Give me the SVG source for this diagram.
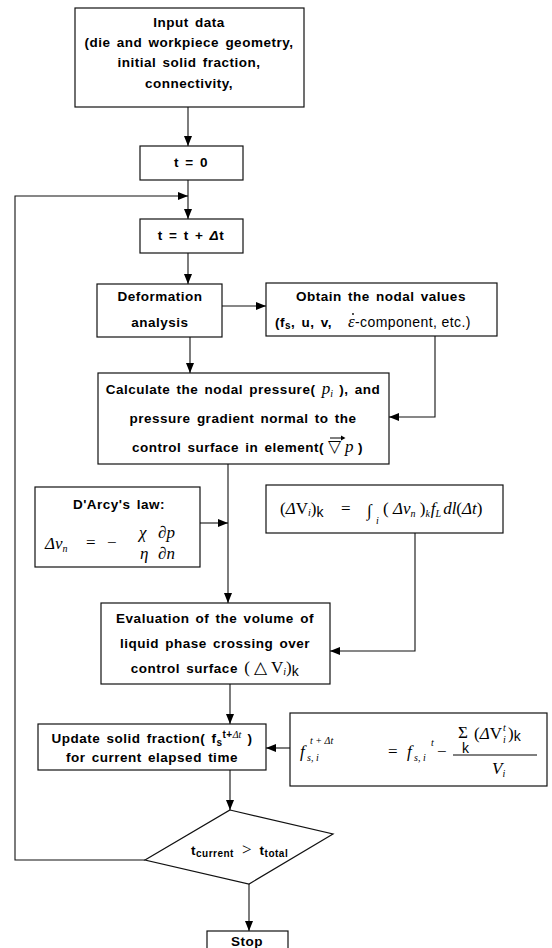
<svg xmlns="http://www.w3.org/2000/svg" width="552" height="948" viewBox="0 0 552 948">
<style>
.box{fill:#fff;stroke:#111;stroke-width:1.2}
.ln{fill:none;stroke:#111;stroke-width:1.1}
.t{font-family:"Liberation Sans",Arial,sans-serif;font-weight:bold;font-size:13.5px;fill:#000;letter-spacing:0.5px;word-spacing:2px}
.c{text-anchor:middle}
.e{text-anchor:end}
.m{font-family:"Liberation Serif","Times New Roman",serif;font-style:italic;font-size:17px;fill:#000}
.mu{font-family:"Liberation Serif","Times New Roman",serif;font-size:17px;fill:#000}
.r{font-family:"Liberation Sans",Arial,sans-serif;font-weight:normal;font-size:14px;fill:#000;letter-spacing:0.4px}
.s{font-size:10px}
.ss{font-family:"Liberation Serif","Times New Roman",serif;font-style:italic;font-size:10px;fill:#000}
</style>
<defs>
<marker id="ah" markerWidth="10" markerHeight="8" refX="10" refY="4" orient="auto" markerUnits="userSpaceOnUse">
<path d="M0,0 L10,4 L0,8 Z" fill="#000"/>
</marker>
</defs>

<g id="connectors">
<path class="ln" d="M188,107 V146" marker-end="url(#ah)"/>
<path class="ln" d="M188,180 V219" marker-end="url(#ah)"/>
<path class="ln" d="M145,860 H15 V196 H188" marker-end="url(#ah)"/>
<path class="ln" d="M188,253 V284" marker-end="url(#ah)"/>
<path class="ln" d="M222,306 H266" marker-end="url(#ah)"/>
<path class="ln" d="M190,337 V373" marker-end="url(#ah)"/>
<path class="ln" d="M435,336 V417 H389" marker-end="url(#ah)"/>
<path class="ln" d="M228,464 V603" marker-end="url(#ah)"/>
<path class="ln" d="M200,523 H228" marker-end="url(#ah)"/>
<path class="ln" d="M415,533 V651 H330" marker-end="url(#ah)"/>
<path class="ln" d="M230,684 V724" marker-end="url(#ah)"/>
<path class="ln" d="M290,748 H266" marker-end="url(#ah)"/>
<path class="ln" d="M230,770 V810" marker-end="url(#ah)"/>
<path class="ln" d="M249,884 V931" marker-end="url(#ah)"/>
</g>

<g id="input">
<rect class="box" x="75" y="8" width="229" height="99"/>
<text class="t c" x="189" y="27">Input data</text>
<text class="t c" x="189" y="47">(die and workpiece geometry,</text>
<text class="t c" x="189" y="67">initial solid fraction,</text>
<text class="t c" x="189" y="88">connectivity,</text>
</g>

<g id="t0">
<rect class="box" x="140" y="146" width="103" height="34"/>
<text class="t c" x="191" y="167">t = 0</text>
</g>

<g id="tdt">
<rect class="box" x="140" y="219" width="103" height="34"/>
<text class="t c" x="191" y="240">t = t + <tspan font-style="italic">Δ</tspan>t</text>
</g>

<g id="deformation">
<rect class="box" x="97" y="284" width="125" height="53"/>
<text class="t c" x="160" y="301">Deformation</text>
<text class="t c" x="160" y="327">analysis</text>
</g>

<g id="obtain">
<rect class="box" x="266" y="283" width="231" height="53"/>
<text class="t c" x="381" y="301">Obtain the nodal values</text>
<text class="t" x="275" y="327">(f<tspan class="s" dy="2">s</tspan><tspan dy="-2">,  u,  v,</tspan></text>
<text class="m" x="348" y="327" font-size="15px">ε</text>
<circle cx="353" cy="314" r="0.9" fill="#000"/>
<text class="r" x="355" y="327">-component,  etc.)</text>
</g>

<g id="calculate">
<rect class="box" x="98" y="373" width="291" height="91"/>
<text x="243" y="394" class="c"><tspan class="t">Calculate the nodal pressure( </tspan><tspan class="m" font-size="15px">p</tspan><tspan class="ss" dy="3">i</tspan><tspan class="t" dy="-3">  ), and</tspan></text>
<text class="t c" x="243" y="423">pressure gradient normal to the</text>
<text class="t e" x="324" y="452">control surface in element(</text>
<text class="mu" x="328" y="452" font-size="15px">▽</text>
<text class="m" x="345" y="452" font-size="15px">p</text>
<text class="t" x="358" y="452">)</text>
<path d="M330,438 H344" stroke="#000" stroke-width="1"/>
<path d="M341,435.5 L345.5,438 L341,440.5 Z" fill="#000"/>
</g>

<g id="darcy">
<rect class="box" x="35" y="487" width="165" height="80"/>
<text class="t c" x="119" y="509">D'Arcy's law:</text>
<text class="m" x="45" y="549">Δv<tspan class="ss" dy="3">n</tspan></text>
<text class="mu" x="86" y="548">=</text>
<text class="mu" x="107" y="548">−</text>
<text class="m" x="139" y="538">χ</text>
<text class="m" x="140" y="559">η</text>
<text class="m" x="158" y="538">∂p</text>
<text class="m" x="158" y="559">∂n</text>
</g>

<g id="volume-formula">
<rect class="box" x="266" y="485" width="237" height="48"/>
<text x="280" y="514"><tspan class="mu">(</tspan><tspan class="m">Δ</tspan><tspan class="mu">V</tspan><tspan class="ss" dy="2">i</tspan><tspan class="mu" dy="-2">)</tspan><tspan class="r" dy="3" font-size="12px">k</tspan></text>
<text class="mu" x="341" y="514">=</text>
<text class="mu" x="367" y="516" font-size="22px">∫</text>
<text class="ss" x="376" y="524">i</text>
<text x="383" y="514"><tspan class="mu">( </tspan><tspan class="m">Δv</tspan><tspan class="ss" dy="3">n</tspan><tspan class="mu" dy="-3"> )</tspan><tspan class="ss" dy="3">k</tspan><tspan class="m" dy="-3" dx="1">f</tspan><tspan class="ss" dy="3">L</tspan><tspan class="m" dy="-3" dx="2">dl</tspan><tspan class="mu">(</tspan><tspan class="m">Δt</tspan><tspan class="mu">)</tspan></text>
</g>

<g id="evaluation">
<rect class="box" x="101" y="603" width="229" height="81"/>
<text class="t c" x="215" y="623">Evaluation of the volume of</text>
<text class="t c" x="215" y="648">liquid phase crossing over</text>
<text x="215" y="673" class="c"><tspan class="t">control surface  </tspan><tspan class="mu" font-size="15px"> ( △ V</tspan><tspan class="ss" font-style="normal" dy="2">i</tspan><tspan class="mu" font-size="15px" dy="-2">)</tspan><tspan class="r" font-size="11px" dy="3">k</tspan></text>
</g>

<g id="update">
<rect class="box" x="38" y="724" width="228" height="46"/>
<text x="152" y="743" class="c"><tspan class="t">Update solid fraction( f</tspan><tspan class="t s" dy="3">s</tspan><tspan class="t s" dy="-8">t+</tspan><tspan class="ss">Δt</tspan><tspan class="t" dy="5"> )</tspan></text>
<text class="t c" x="152" y="762">for current elapsed time</text>
</g>

<g id="fraction-formula">
<rect class="box" x="290" y="713" width="257" height="73"/>
<text class="m" x="300" y="757">f</text>
<text class="ss" x="307" y="761">s, i</text>
<text class="ss" x="310" y="744">t + Δt</text>
<text class="mu" x="388" y="757">=</text>
<text class="m" x="407" y="757">f</text>
<text class="ss" x="414" y="761">s, i</text>
<text class="ss" x="431" y="746">t</text>
<text class="mu" x="437" y="757">−</text>
<text class="mu" x="458" y="738" font-size="17px">Σ</text>
<text class="r" x="462" y="753" font-size="8px">k</text>
<text x="474" y="739"><tspan class="mu">(</tspan><tspan class="m">Δ</tspan><tspan class="mu">V</tspan></text>
<text class="ss" font-style="normal" font-size="9px" x="503" y="743">i</text>
<text class="ss" font-style="normal" font-size="9px" x="503" y="731">t</text>
<text x="508" y="739"><tspan class="mu">)</tspan><tspan class="r" font-size="12px" dy="2">k</tspan></text>
<path d="M453,755 H537" stroke="#000" stroke-width="1"/>
<text x="492" y="774"><tspan class="m">V</tspan><tspan class="ss" dy="3">i</tspan></text>
</g>

<g id="decision">
<polygon class="box" points="230,810 333,834 249,884 145,860"/>
<text x="191" y="855"><tspan class="t">t</tspan><tspan class="t s" dy="2" letter-spacing="0">current</tspan><tspan class="mu" font-size="15px" dy="-2" dx="8">&gt;</tspan><tspan class="t" dx="8">t</tspan><tspan class="t s" dy="2" letter-spacing="0">total</tspan></text>
</g>

<g id="stop">
<rect class="box" x="207" y="931" width="81" height="30"/>
<text class="t c" x="247" y="946">Stop</text>
</g>
</svg>
